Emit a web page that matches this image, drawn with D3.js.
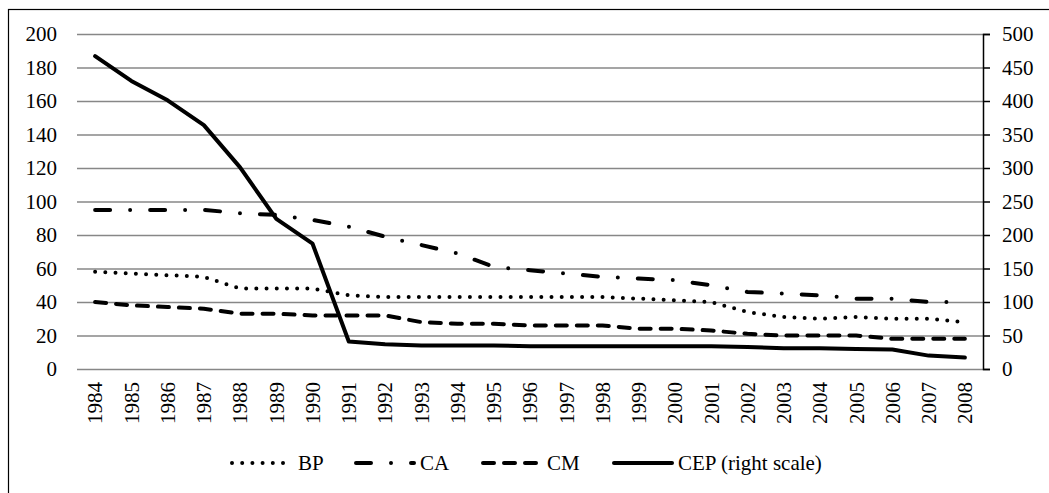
<!DOCTYPE html>
<html>
<head>
<meta charset="utf-8">
<script src="https://cdn.jsdelivr.net/npm/d3@7"></script>
<style>
  body { margin: 0; background: #fff; }
  svg { display: block; }
</style>
</head>
<body>
<div id="chart"></div>
<script>
// values
const years = ["1984","1985","1986","1987","1988","1989","1990","1991","1992","1993","1994","1995","1996",
  "1997","1998","1999","2000","2001","2002","2003","2004","2005","2006","2007","2008"];
const bp  = [58,57,56,55,48,48,48,44,43,43,43,43,43,43,43,42,41,40,34,31,30,31,30,30,28];
const ca  = [95,95,95,95,93,92,89,85,79,74,69,61,59,57,55,54,53,50,46,45,44,42,42,40,40];
const cm  = [40,38,37,36,33,33,32,32,32,28,27,27,26,26,26,24,24,23,21,20,20,20,18,18,18];
const cep = [467,430,401,364,301,224,187,41,37,35,35,35,34,34,34,34,34,34,33,31,31,30,29,20,17];
const leftTicks = [0,20,40,60,80,100,120,140,160,180,200];
const rightTicks = [0,50,100,150,200,250,300,350,400,450,500];
const seriesNames = ["BP","CA","CM","CEP (right scale)"];

const width = 1049, height = 493,
  margin = {top: 34, right: 66, bottom: 124, left: 77};
const serif = "Liberation Serif";
const fs = 21;

const svg = d3.select("#chart")
  .append("svg")
  .attr("width", width)
  .attr("height", height);

// outer frame (cut off at right and bottom)
svg.append("rect")
  .attr("x", 8.5).attr("y", 9.5)
  .attr("width", 1200).attr("height", 700)
  .attr("fill", "none").attr("stroke", "#000").attr("stroke-width", 1.2);

let x = d3.scalePoint(years, [margin.left, width - margin.right]).padding(0.5);
let y = d3.scaleLinear([0, 200], [height - margin.bottom, margin.top]);
let y2 = d3.scaleLinear([0, 500], [height - margin.bottom, margin.top]);

// gridlines (left axis ticks stretched across the plot)
svg.append("g")
  .attr("transform", `translate(${margin.left},0)`)
  .call(d3.axisLeft(y).tickValues(leftTicks).tickSize(-(width - margin.left - margin.right)).tickFormat(""))
  .call(g => g.select(".domain").remove())
  .call(g => g.selectAll("line").attr("stroke", "#878787").attr("stroke-width", 1.5));

// left tick labels
svg.append("g")
  .selectAll("text")
  .data(leftTicks)
  .join("text")
  .attr("x", margin.left - 20)
  .attr("y", d => y(d))
  .attr("dy", "0.35em")
  .attr("text-anchor", "end")
  .attr("font-family", serif)
  .attr("font-size", fs)
  .text(d => d);

// year labels, rotated
svg.append("g")
  .selectAll("text")
  .data(years)
  .join("text")
  .attr("transform", d => `translate(${x(d)},${height - margin.bottom + 13}) rotate(-90)`)
  .attr("dy", "0.35em")
  .attr("text-anchor", "end")
  .attr("font-family", serif)
  .attr("font-size", fs)
  .text(d => d);

const styles = [
  {w: 4, dash: "0 10.2"},
  {w: 4, dash: "15 20 0 20"},
  {w: 4, dash: "11 10"},
  {w: 4, dash: null}
];

const series = [
  {vals: bp, sc: y},
  {vals: ca, sc: y},
  {vals: cm, sc: y},
  {vals: cep, sc: y2}
];

series.forEach((s, i) => {
  const line = d3.line().x((d, j) => x(years[j])).y(d => s.sc(d));
  svg.append("path")
    .datum(s.vals)
    .attr("d", line)
    .attr("fill", "none")
    .attr("stroke", "#000")
    .attr("stroke-width", styles[i].w)
    .attr("stroke-linecap", "round")
    .attr("stroke-linejoin", "round")
    .attr("stroke-dasharray", styles[i].dash);
});

// right axis (line + outward ticks)
svg.append("g")
  .attr("transform", `translate(${width - margin.right},0)`)
  .call(d3.axisRight(y2).tickValues(rightTicks).tickSize(7).tickFormat(""))
  .call(g => g.selectAll("line,path").attr("stroke", "#000").attr("stroke-width", 1.5));

// right tick labels
svg.append("g")
  .selectAll("text")
  .data(rightTicks)
  .join("text")
  .attr("x", width - margin.right + 19)
  .attr("y", d => y2(d))
  .attr("dy", "0.35em")
  .attr("font-family", serif)
  .attr("font-size", fs)
  .text(d => d);

// legend
const legendX = [232, 354, 481, 612];
const legendY = 463;
seriesNames.forEach((name, i) => {
  const start = styles[i].dash && styles[i].dash.startsWith("0") ? legendX[i] : legendX[i] + 2;
  svg.append("line")
    .attr("x1", start).attr("x2", legendX[i] + 60)
    .attr("y1", legendY).attr("y2", legendY)
    .attr("stroke", "#000")
    .attr("stroke-width", styles[i].w)
    .attr("stroke-linecap", "round")
    .attr("stroke-dasharray", styles[i].dash);
  svg.append("text")
    .attr("x", legendX[i] + 66)
    .attr("y", legendY + 7)
    .attr("font-family", serif)
    .attr("font-size", fs)
    .text(name);
});
</script>
</body>
</html>
